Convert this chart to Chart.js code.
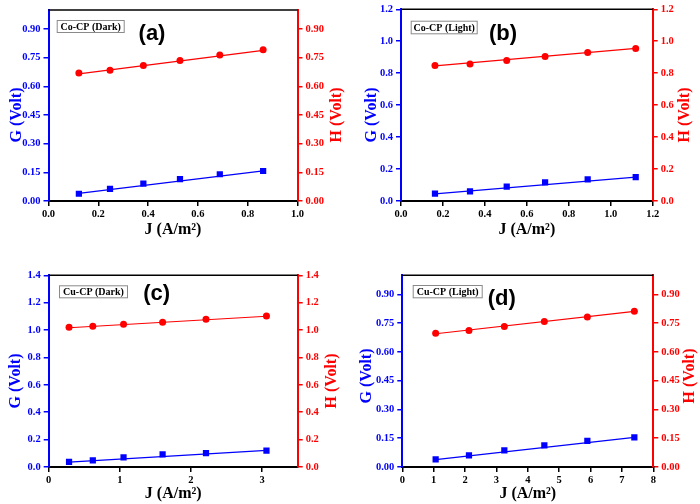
<!DOCTYPE html>
<html><head><meta charset="utf-8">
<script src="https://cdn.jsdelivr.net/npm/chart.js@4/dist/chart.umd.min.js"></script>
<style>
body{margin:0;background:#fff;width:700px;height:504px;position:relative;overflow:hidden}
canvas{position:absolute}
</style></head>
<body>
<canvas id="pa" width="350" height="252" style="left:0;top:0"></canvas>
<canvas id="pb" width="350" height="252" style="left:350px;top:0"></canvas>
<canvas id="pc" width="350" height="252" style="left:0;top:252px"></canvas>
<canvas id="pd" width="350" height="252" style="left:350px;top:252px"></canvas>
<script>
// ---------- data ----------
const panelLetters = ['(a)', '(b)', '(c)', '(d)'];
const sampleNames = ['Co-CP (Dark)', 'Co-CP (Light)', 'Cu-CP (Dark)', 'Cu-CP (Light)'];
const xTitle = 'J (A/m\u00B2)';
const gTitle = 'G (Volt)';
const hTitle = 'H (Volt)';

// (a) Co-CP Dark
const jA = [0.122, 0.247, 0.381, 0.528, 0.688, 0.862];
const gA = [0.038, 0.063, 0.091, 0.115, 0.140, 0.157];
const hA = [0.670, 0.685, 0.710, 0.736, 0.764, 0.792];
const fitJA = [0.122, 0.862];
const fitGA = [0.040, 0.158];
const fitHA = [0.666, 0.789];
const xTicksA = [0, 0.2, 0.4, 0.6, 0.8, 1.0];
const yTicksA = [0, 0.15, 0.30, 0.45, 0.60, 0.75, 0.90];

// (b) Co-CP Light
const jB = [0.162, 0.329, 0.504, 0.687, 0.890, 1.119];
const gB = [0.046, 0.060, 0.090, 0.117, 0.135, 0.150];
const hB = [0.848, 0.858, 0.879, 0.904, 0.929, 0.954];
const fitJB = [0.162, 1.119];
const fitGB = [0.044, 0.149];
const fitHB = [0.846, 0.956];
const xTicksB = [0, 0.2, 0.4, 0.6, 0.8, 1.0, 1.2];
const yTicksB = [0, 0.2, 0.4, 0.6, 0.8, 1.0, 1.2];

// (c) Cu-CP Dark
const jC = [0.286, 0.620, 1.052, 1.601, 2.211, 3.061];
const gC = [0.037, 0.049, 0.071, 0.093, 0.102, 0.119];
const hC = [1.020, 1.028, 1.042, 1.057, 1.079, 1.103];
const fitJC = [0.286, 3.061];
const fitGC = [0.035, 0.122];
const fitHC = [1.017, 1.101];
const xTicksC = [0, 1, 2, 3];
const yTicksC = [0, 0.2, 0.4, 0.6, 0.8, 1.0, 1.2, 1.4];

// (d) Cu-CP Light
const jD = [1.063, 2.125, 3.252, 4.527, 5.898, 7.396];
const gD = [0.040, 0.061, 0.087, 0.113, 0.136, 0.155];
const hD = [0.698, 0.712, 0.733, 0.759, 0.783, 0.813];
const fitJD = [1.063, 7.396];
const fitGD = [0.038, 0.155];
const fitHD = [0.695, 0.812];
const xTicksD = [0, 1, 2, 3, 4, 5, 6, 7, 8];
const yTicksD = [0, 0.15, 0.30, 0.45, 0.60, 0.75, 0.90];

// ---------- styling / layout ----------
const BLUE = '#0000ff';
const RED = '#ff0000';
const TICK_FONT = {family: '"Liberation Serif", "Times New Roman", serif', weight: 'bold', size: 10.5};
const TITLE_FAMILY = '"Liberation Serif", "Times New Roman", serif';

const panels = [
  {id: 'pa', J: jA, G: gA, H: hA, fJ: fitJA, fG: fitGA, fH: fitHA, xT: xTicksA, yT: yTicksA,
   xMax: 1.0, yMax: 1.0, xDec: 1, yDec: 2,
   geo: {left: 48.5, right: 297.5, top: 10, bottom: 201, gX: 16.5, hX: 337, vY: 115, xPad: 13,
         box: [56.7, 20, 67, 12], letter: [152, 33.5]}},
  {id: 'pb', J: jB, G: gB, H: hB, fJ: fitJB, fG: fitGB, fH: fitHB, xT: xTicksB, yT: yTicksB,
   xMax: 1.2, yMax: 1.2, xDec: 1, yDec: 1,
   geo: {left: 51, right: 302.7, top: 9.3, bottom: 201, gX: 21.5, hX: 335, vY: 115, xPad: 13,
         box: [60.7, 20.7, 66, 12.6], letter: [153, 33.5]}},
  {id: 'pc', J: jC, G: gC, H: hC, fJ: fitJC, fG: fitGC, fH: fitHC, xT: xTicksC, yT: yTicksC,
   xMax: 3.5, yMax: 1.4, xDec: 0, yDec: 1,
   geo: {left: 48.7, right: 297.7, top: 23.3, bottom: 215, gX: 16, hX: 331.7, vY: 129, xPad: 1,
         box: [59, 33.3, 68, 12], letter: [156.7, 41.7]}},
  {id: 'pd', J: jD, G: gD, H: hD, fJ: fitJD, fG: fitGD, fH: fitHD, xT: xTicksD, yT: yTicksD,
   xMax: 8, yMax: 1.0, xDec: 0, yDec: 2,
   geo: {left: 52.3, right: 303.3, top: 23.3, bottom: 215, gX: 17, hX: 340, vY: 124, xPad: 1,
         box: [62.7, 33, 69, 12.3], letter: [151.7, 46.7]}}
];

function pts(xs, ys) { return xs.map((x, i) => ({x: x, y: ys[i]})); }

const decor = {
  id: 'decor',
  afterDraw(chart, args, opts) {
    const ctx = chart.ctx, a = chart.chartArea, g = opts.geo;
    ctx.save();
    // top frame line
    ctx.strokeStyle = '#000'; ctx.lineWidth = 1.5;
    ctx.beginPath(); ctx.moveTo(a.left, a.top); ctx.lineTo(a.right, a.top); ctx.stroke();
    // vertical titles
    ctx.font = 'bold 16px ' + TITLE_FAMILY;
    ctx.textAlign = 'center'; ctx.textBaseline = 'middle';
    ctx.fillStyle = BLUE;
    ctx.save(); ctx.translate(g.gX, g.vY); ctx.rotate(-Math.PI / 2); ctx.fillText(gTitle, 0, 0); ctx.restore();
    ctx.fillStyle = RED;
    ctx.save(); ctx.translate(g.hX, g.vY); ctx.rotate(-Math.PI / 2); ctx.fillText(hTitle, 0, 0); ctx.restore();
    // legend box
    const b = g.box;
    ctx.fillStyle = '#fff';
    ctx.fillRect(b[0], b[1], b[2], b[3]);
    ctx.strokeStyle = '#8a8a8a'; ctx.lineWidth = 1;
    ctx.strokeRect(b[0] + 0.5, b[1] + 0.5, b[2], b[3]);
    ctx.fillStyle = '#000';
    ctx.font = 'bold 10px ' + TITLE_FAMILY;
    ctx.fillText(opts.name, b[0] + b[2] / 2 + 0.5, b[1] + b[3] / 2 + 1);
    // panel letter
    ctx.font = 'bold 22px "Liberation Sans", Arial, sans-serif';
    ctx.fillText(opts.letter, g.letter[0], g.letter[1]);
    ctx.restore();
  }
};

panels.forEach((p, idx) => {
  const g = p.geo;
  new Chart(document.getElementById(p.id), {
    type: 'scatter',
    data: {
      datasets: [
        {label: 'G fit', data: pts(p.fJ, p.fG), yAxisID: 'yG', showLine: true, borderColor: BLUE,
         borderWidth: 1.2, pointRadius: 0, fill: false},
        {label: 'H fit', data: pts(p.fJ, p.fH), yAxisID: 'yH', showLine: true, borderColor: RED,
         borderWidth: 1.2, pointRadius: 0, fill: false},
        {label: 'G', data: pts(p.J, p.G), yAxisID: 'yG', pointStyle: 'rect', pointRadius: 4.4,
         backgroundColor: BLUE, borderColor: BLUE, borderWidth: 0},
        {label: 'H', data: pts(p.J, p.H), yAxisID: 'yH', pointStyle: 'circle', pointRadius: 3.5,
         backgroundColor: RED, borderColor: RED, borderWidth: 0}
      ]
    },
    options: {
      responsive: false, animation: false, devicePixelRatio: 1,
      layout: {padding: {left: 0, right: 0, top: g.top, bottom: 0}},
      plugins: {legend: {display: false}, tooltip: {enabled: false},
                decor: {geo: g, name: sampleNames[idx], letter: panelLetters[idx]}},
      scales: {
        x: {
          type: 'linear', position: 'bottom', min: 0, max: p.xMax,
          afterBuildTicks: s => { s.ticks = p.xT.map(v => ({value: v})); },
          afterFit: s => { s.height = 252 - g.bottom; },
          grid: {drawOnChartArea: false, drawTicks: true, tickLength: 5, color: '#000', lineWidth: 1.5},
          border: {color: '#000', width: 2},
          ticks: {color: '#000', font: TICK_FONT, padding: 2, maxRotation: 0, autoSkip: false,
                  callback: v => Number(v).toFixed(p.xDec)},
          title: {display: true, text: xTitle, color: '#000',
                  font: {family: TITLE_FAMILY, weight: 'bold', size: 16}, padding: {top: 0, bottom: g.xPad}}
        },
        yG: {
          type: 'linear', position: 'left', min: 0, max: p.yMax,
          afterBuildTicks: s => { s.ticks = p.yT.map(v => ({value: v})); },
          afterFit: s => { s.width = g.left; },
          grid: {drawOnChartArea: false, drawTicks: true, tickLength: 5, color: BLUE, lineWidth: 1.5},
          border: {color: BLUE, width: 2},
          ticks: {color: BLUE, font: TICK_FONT, padding: 3, callback: v => Number(v).toFixed(p.yDec)}
        },
        yH: {
          type: 'linear', position: 'right', min: 0, max: p.yMax,
          afterBuildTicks: s => { s.ticks = p.yT.map(v => ({value: v})); },
          afterFit: s => { s.width = 350 - g.right; },
          grid: {drawOnChartArea: false, drawTicks: true, tickLength: 5, color: RED, lineWidth: 1.5},
          border: {color: RED, width: 2},
          ticks: {color: RED, font: TICK_FONT, padding: 3, callback: v => Number(v).toFixed(p.yDec)}
        }
      }
    },
    plugins: [decor]
  });
});
</script>
</body></html>
